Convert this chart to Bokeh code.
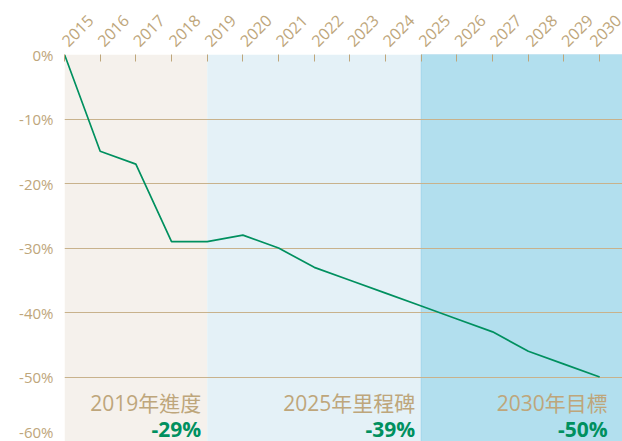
import math
from bokeh.plotting import figure
from bokeh.models import FixedTicker, PrintfTickFormatter, Range1d, ColumnDataSource
from bokeh.core.properties import value
from bokeh.embed import file_html
from bokeh.resources import INLINE

years = [2015, 2016, 2017, 2018, 2019, 2020, 2021, 2022, 2023, 2024, 2025, 2026, 2027, 2028, 2029, 2030]
reduction = [0, -15, -17, -29, -29, -28, -30, -33, -35, -37, -39, -41, -43, -46, -48, -50]
y_ticks = [0, -10, -20, -30, -40, -50, -60]

band_left = [2015, 2019, 2025]
band_right = [2019, 2025, 2031]
band_colors = ["#f5f1ec", "#e4f1f7", "#b2dfee"]
band_edges = [None, None, "#9fd4ea"]

milestone_x = [2019, 2025, 2030]
milestone_names = ["2019年進度", "2025年里程碑", "2030年目標"]
milestone_values = ["-29%", "-39%", "-50%"]

TAN = "#bea67b"
GREEN = "#00905f"

p = figure(width=622, height=441, output_backend="svg", toolbar_location=None,
           x_axis_location="above",
           x_range=Range1d(2015, 2030.64), y_range=Range1d(-60, 0),
           min_border_left=64, min_border_right=0, min_border_top=54, min_border_bottom=0)
p.outline_line_color = None
p.background_fill_color = "white"

p.quad(left=band_left, right=band_right, top=0, bottom=-70, fill_color=band_colors,
       line_color=band_edges, line_width=1, level="image")

p.line(years, reduction, line_color=GREEN, line_width=1.7)

xa = p.xaxis[0]
xa.ticker = FixedTicker(ticks=years)
xa.major_label_orientation = math.pi / 4
xa.axis_line_color = None
xa.major_tick_in = 7
xa.major_tick_out = 0
xa.major_tick_line_color = TAN
xa.minor_tick_line_color = None
xa.major_label_text_color = TAN
xa.major_label_text_font = "Open Sans"
xa.major_label_text_font_size = "16px"
xa.major_label_standoff = 11

ya = p.yaxis[0]
ya.ticker = FixedTicker(ticks=y_ticks)
ya.formatter = PrintfTickFormatter(format="%d%%")
ya.axis_line_color = None
ya.major_tick_in = 0
ya.major_tick_out = 0
ya.minor_tick_line_color = None
ya.major_label_text_color = TAN
ya.major_label_text_font = "Open Sans"
ya.major_label_text_font_size = "15px"
ya.major_label_standoff = 11

p.xgrid.grid_line_color = None
p.ygrid.grid_line_color = "#c8b28c"
p.ygrid.grid_line_width = 1.2
p.ygrid.level = "underlay"

src = ColumnDataSource(dict(x=milestone_x, name=milestone_names, val=milestone_values,
                            xo=[-6, -6, 8]))
p.text(x="x", y=-54.0, text="name", source=src, x_offset="xo", text_align="right",
       text_baseline="middle", text_color=TAN, text_font_size="21px",
       text_font=value("Open Sans, Noto Sans CJK TC"))
p.text(x="x", y=-58.1, text="val", source=src, x_offset="xo", text_align="right",
       text_baseline="middle", text_color=GREEN, text_font_size="21px",
       text_font_style="bold", text_font=value("Open Sans"))

open("out.html", "w").write(file_html(p, INLINE))
